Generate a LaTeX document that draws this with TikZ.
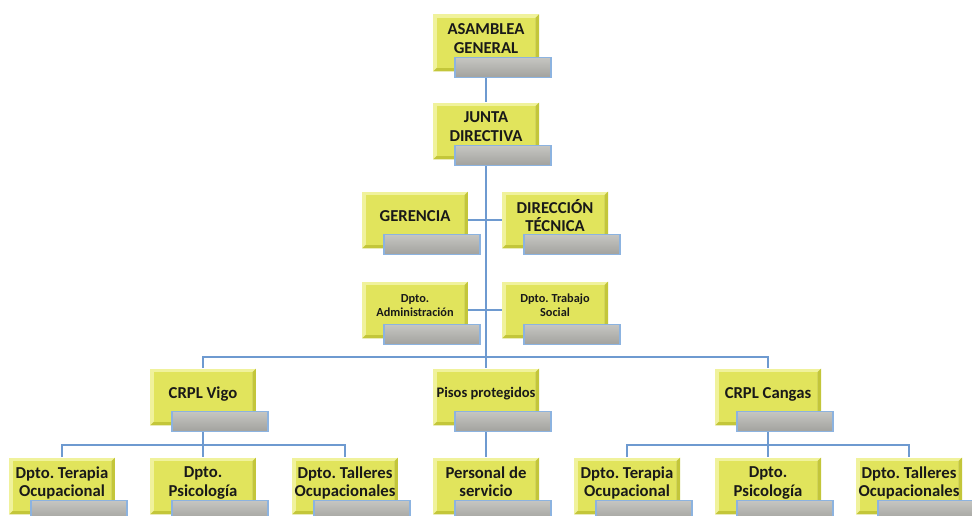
\documentclass[tikz,border=0pt]{standalone}
\usepackage{fontspec}
\setmainfont{Carlito}
\usetikzlibrary{backgrounds}
\frenchspacing
\definecolor{unitfill}{HTML}{E1E45C}
\definecolor{unitlight}{HTML}{F0F29C}
\definecolor{unitdark}{HTML}{C3C63A}
\definecolor{tagtop}{HTML}{C6C6C2}
\definecolor{tagbottom}{HTML}{A2A29E}
\definecolor{tagline}{HTML}{8CB3E0}
\definecolor{linkblue}{HTML}{6E9AD0}
\tikzset{
  unit/.style={fill=unitlight, minimum width=2.12cm, minimum height=1.14cm,
    inner sep=1pt, align=center, text depth=5pt, text=black!90,
    font=\fontsize{9.5}{10.5}\selectfont\bfseries,
    path picture={
      \fill[unitdark] (path picture bounding box.north east)
        -- (path picture bounding box.south east)
        -- (path picture bounding box.south west)
        -- ([shift={(2pt,2pt)}]path picture bounding box.south west)
        -- ([shift={(-2pt,2pt)}]path picture bounding box.south east)
        -- ([shift={(-2pt,-2pt)}]path picture bounding box.north east) -- cycle;
      \fill[unitfill] ([shift={(2pt,2pt)}]path picture bounding box.south west)
        rectangle ([shift={(-2pt,-2pt)}]path picture bounding box.north east);
    }},
  small/.style={font=\fontsize{7}{8}\selectfont\bfseries},
  medium/.style={font=\fontsize{8.3}{9.3}\selectfont\bfseries},
  tag/.style={draw=tagline, line width=0.9pt, top color=tagtop, bottom color=tagbottom,
    minimum width=1.92cm, minimum height=0.4cm, inner sep=0pt},
  link/.style={draw=linkblue, line width=1.2pt}
}
\begin{document}
\begin{tikzpicture}[x=0.02cm, y=-0.02cm]
\useasboundingbox (0,0) rectangle (972,516);
\clip (0,0) rectangle (972,516);
% upper levels
\node[unit] (asamblea) at (486,43) {ASAMBLEA\\GENERAL};
\node[unit] (junta) at (486,131) {JUNTA\\DIRECTIVA};
\node[unit] (gerencia) at (415,220) {GERENCIA};
\node[unit] (direccion) at (555,220) {DIRECCIÓN\\TÉCNICA};
\node[unit, small] (admin) at (415,310) {Dpto.\\Administración};
\node[unit, small] (social) at (555,310) {Dpto. Trabajo\\Social};
% centres
\node[unit] (vigo) at (203,397) {CRPL Vigo};
\node[unit, medium] (pisos) at (486,397) {Pisos protegidos};
\node[unit] (cangas) at (768,397) {CRPL Cangas};
% departments
\node[unit] (vigoTer) at (62,486) {Dpto. Terapia\\Ocupacional};
\node[unit] (vigoPsi) at (203,486) {Dpto.\\Psicología};
\node[unit] (vigoTal) at (345,486) {Dpto. Talleres\\Ocupacionales};
\node[unit] (personal) at (486,486) {Personal de\\servicio};
\node[unit] (cangasTer) at (627,486) {Dpto. Terapia\\Ocupacional};
\node[unit] (cangasPsi) at (768,486) {Dpto.\\Psicología};
\node[unit] (cangasTal) at (909,486) {Dpto. Talleres\\Ocupacionales};
% grey tags
\foreach \n in {asamblea,junta,gerencia,direccion,admin,social,vigo,pisos,cangas,
  vigoTer,vigoPsi,vigoTal,personal,cangasTer,cangasPsi,cangasTal}
{
  \node[tag] (\n-t) at ([shift={(0.34cm,-0.49cm)}]\n.center) {};
}
\coordinate (bar) at (486,357);
\coordinate (vigo-bar) at (203,445);
\coordinate (cangas-bar) at (768,445);
\begin{scope}[on background layer]
\draw[link] (asamblea) -- (junta);
\draw[link] (junta) -- (bar);
\draw[link] (gerencia.east) -- (direccion.west);
\draw[link] (admin.east) -- (social.west);
\draw[link] (vigo.north) |- (bar) -| (cangas.north);
\draw[link] (bar) -- (pisos.north);
\draw[link] (pisos) -- (personal);
\draw[link] (vigo) -- (vigo-bar);
\draw[link] (vigoTer.north) |- (vigo-bar) -| (vigoTal.north);
\draw[link] (vigo-bar) -- (vigoPsi.north);
\draw[link] (cangas) -- (cangas-bar);
\draw[link] (cangasTer.north) |- (cangas-bar) -| (cangasTal.north);
\draw[link] (cangas-bar) -- (cangasPsi.north);
\end{scope}
\end{tikzpicture}
\end{document}
